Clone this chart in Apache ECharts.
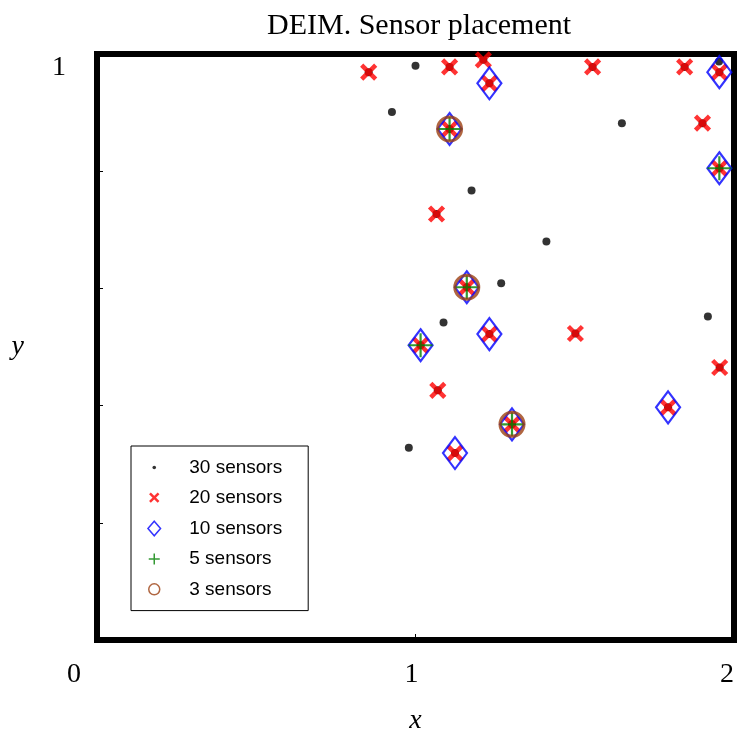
<!DOCTYPE html>
<html>
<head>
<meta charset="utf-8">
<script src="https://cdn.jsdelivr.net/npm/echarts@6/dist/echarts.min.js"></script>
<style>
html,body{margin:0;padding:0;background:#fff;}
#chart{width:737px;height:740px;}
</style>
</head>
<body>
<div id="chart"></div>
<script>
// ---- data ----
const seriesNames = ['30 sensors', '20 sensors', '10 sensors', '5 sensors', '3 sensors'];
const xTickLabels = ['0', '1', '2'];
const yTickLabels = ['1'];

// 30 sensors (10 extra points + the 20-sensor set)
const x30 = [1.000, 0.926, 1.648, 1.176, 1.411, 1.269, 1.088, 1.918, 0.979, 1.953,
             0.853, 1.107, 1.213, 1.232, 1.556, 1.845, 1.954, 1.107, 1.901, 1.954,
             1.066, 1.161, 1.232, 1.502, 1.016, 1.955, 1.070, 1.793, 1.303, 1.124];
const y30 = [0.980, 0.901, 0.882, 0.767, 0.680, 0.609, 0.542, 0.552, 0.328, 0.987,
             0.969, 0.978, 0.990, 0.950, 0.978, 0.978, 0.969, 0.872, 0.882, 0.805,
             0.727, 0.602, 0.522, 0.523, 0.503, 0.465, 0.426, 0.397, 0.368, 0.319];
// 20 sensors
const x20 = [0.853, 1.107, 1.213, 1.232, 1.556, 1.845, 1.954, 1.107, 1.901, 1.954,
             1.066, 1.161, 1.232, 1.502, 1.016, 1.955, 1.070, 1.793, 1.303, 1.124];
const y20 = [0.969, 0.978, 0.990, 0.950, 0.978, 0.978, 0.969, 0.872, 0.882, 0.805,
             0.727, 0.602, 0.522, 0.523, 0.503, 0.465, 0.426, 0.397, 0.368, 0.319];
// 10 sensors
const x10 = [1.232, 1.954, 1.107, 1.954, 1.161, 1.232, 1.016, 1.793, 1.303, 1.124];
const y10 = [0.950, 0.969, 0.872, 0.805, 0.602, 0.522, 0.503, 0.397, 0.368, 0.319];
// 5 sensors
const x5 = [1.107, 1.954, 1.161, 1.016, 1.303];
const y5 = [0.872, 0.805, 0.602, 0.503, 0.368];
// 3 sensors
const x3 = [1.107, 1.161, 1.303];
const y3 = [0.872, 0.602, 0.368];

// ---- build ----
function pts(xs, ys) { return xs.map((x, i) => [x, ys[i]]); }

const RED = '#ff0000', BLUE = '#0000ff', GREEN = '#008000', BROWN = '#9c4012';
const SERIF = 'Liberation Serif';

const chart = echarts.init(document.getElementById('chart'), null, {renderer: 'canvas'});

const baseSeries = {
  type: 'scatter', clip: false, silent: true, animation: false,
  emphasis: {disabled: true}
};

chart.setOption({
  backgroundColor: '#fff',
  animation: false,
  title: {
    text: 'DEIM. Sensor placement',
    left: 262, top: 6,
    textStyle: {fontFamily: SERIF, fontSize: 30, fontWeight: 'normal', color: '#000'}
  },
  grid: {
    left: 97, right: 2, top: 54, bottom: 99,
    show: true, borderColor: '#000', borderWidth: 6, backgroundColor: 'transparent'
  },
  xAxis: {
    type: 'value', min: 0, max: 2, interval: 1,
    axisLine: {show: false}, splitLine: {show: false},
    axisTick: {show: true, inside: true, length: 6, lineStyle: {color: '#000', width: 1}},
    axisLabel: {
      margin: 21, color: '#000', fontFamily: SERIF, fontSize: 28,
      formatter: function (v) {
        if (v === 0) return '{z|' + xTickLabels[0] + '}';
        if (v === 1) return '{o|' + xTickLabels[1] + '}';
        if (v === 2) return '{t|' + xTickLabels[2] + '}';
        return '';
      },
      rich: {
        z: {fontFamily: SERIF, fontSize: 28, color: '#000', padding: [0, 46, 0, 0]},
        o: {fontFamily: SERIF, fontSize: 28, color: '#000', padding: [0, 8, 0, 0]},
        t: {fontFamily: SERIF, fontSize: 28, color: '#000', padding: [0, 14, 0, 0]}
      }
    },
    name: 'x', nameLocation: 'middle', nameGap: 67,
    nameTextStyle: {fontFamily: SERIF, fontSize: 28, fontStyle: 'italic', color: '#000'}
  },
  yAxis: {
    type: 'value', min: 0, max: 1, interval: 0.2,
    axisLine: {show: false}, splitLine: {show: false},
    axisTick: {show: true, inside: true, length: 6, lineStyle: {color: '#000', width: 1}},
    axisLabel: {
      margin: 31, color: '#000', fontFamily: SERIF, fontSize: 28, verticalAlign: 'top',
      formatter: function (v) { return v === 1 ? yTickLabels[0] : ''; }
    },
    name: 'y', nameLocation: 'middle', nameGap: 73, nameRotate: 0,
    nameTextStyle: {fontFamily: SERIF, fontSize: 28, fontStyle: 'italic', color: '#000'}
  },
  legend: {
    orient: 'vertical', left: 131, top: 446,
    itemWidth: 40, itemHeight: 20, itemGap: 8.9,
    padding: [11.5, 26, 10.5, 12],
    borderColor: '#000', borderWidth: 1, backgroundColor: '#fff',
    selectedMode: false,
    textStyle: {fontFamily: 'Liberation Sans', fontSize: 19, color: '#000'},
    data: [
      {name: seriesNames[0], icon: 'path://M0,0M40,20M8.2,10A1.8,1.8 0 1,1 11.8,10A1.8,1.8 0 1,1 8.2,10Z',
       itemStyle: {color: '#000', borderWidth: 0}},
      {name: seriesNames[1], icon: 'path://M0,0M40,20M5.7,5.7L14.3,14.3M14.3,5.7L5.7,14.3',
       itemStyle: {color: 'transparent', borderColor: RED, borderWidth: 2.5}},
      {name: seriesNames[2], icon: 'path://M0,0M40,20M10,2.7L16.3,10L10,17.3L3.7,10Z',
       itemStyle: {color: 'transparent', borderColor: BLUE, borderWidth: 1.5}},
      {name: seriesNames[3], icon: 'path://M0,0M40,20M10,4.5L10,15.5M4.5,10L15.5,10',
       itemStyle: {color: 'transparent', borderColor: GREEN, borderWidth: 1.5}},
      {name: seriesNames[4], icon: 'path://M0,0M40,20M4.5,10A5.5,5.5 0 1,1 15.5,10A5.5,5.5 0 1,1 4.5,10Z',
       itemStyle: {color: 'transparent', borderColor: BROWN, borderWidth: 1.5}}
    ]
  },
  series: [
    Object.assign({}, baseSeries, {
      name: seriesNames[0], data: pts(x30, y30),
      symbol: 'circle', symbolSize: 8,
      itemStyle: {color: '#000'}
    }),
    Object.assign({}, baseSeries, {
      name: seriesNames[1], data: pts(x20, y20),
      symbol: 'path://M0,0L10,10M10,0L0,10', symbolSize: 14,
      itemStyle: {color: 'transparent', borderColor: RED, borderWidth: 4.5}
    }),
    Object.assign({}, baseSeries, {
      name: seriesNames[2], data: pts(x10, y10),
      symbol: 'diamond', symbolSize: [24, 32],
      itemStyle: {color: 'transparent', borderColor: BLUE, borderWidth: 2.2}
    }),
    Object.assign({}, baseSeries, {
      name: seriesNames[3], data: pts(x5, y5),
      symbol: 'path://M5,0L5,10M0,5L10,5', symbolSize: 24,
      itemStyle: {color: 'transparent', borderColor: GREEN, borderWidth: 2.2}
    }),
    Object.assign({}, baseSeries, {
      name: seriesNames[4], data: pts(x3, y3),
      symbol: 'circle', symbolSize: 24,
      itemStyle: {color: 'transparent', borderColor: BROWN, borderWidth: 3}
    })
  ]
});
</script>
</body>
</html>
